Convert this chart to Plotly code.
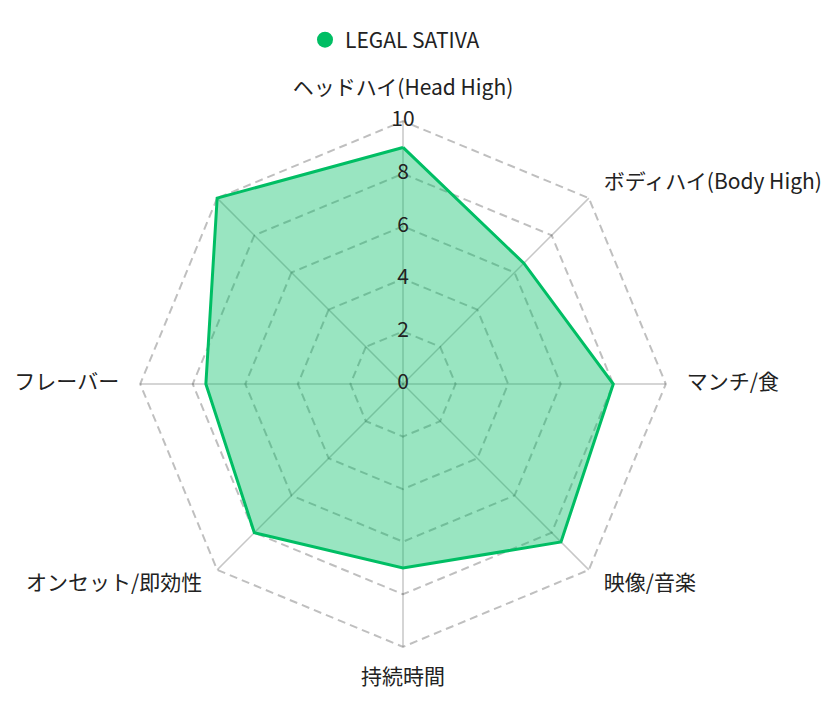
import plotly.graph_objects as go

# chart data
categories = [
    "ヘッドハイ(Head High)",
    "ボディハイ(Body High)",
    "マンチ/食",
    "映像/音楽",
    "持続時間",
    "オンセット/即効性",
    "フレーバー",
    " ",
]
values = [9, 6.5, 8, 8.5, 7, 8, 7.5, 10]
series_name = "LEGAL SATIVA"
tick_values = [0, 2, 4, 6, 8, 10]

line_color = "rgb(0,190,100)"
fill_color = "rgba(0,190,100,0.4)"
grid_color = "rgba(0,0,0,0.22)"
font_family = "Noto Sans CJK JP"
text_color = "#222"

# where each category label sits around its spoke
label_positions = [
    "top center", "middle right", "middle right", "middle right",
    "bottom center", "middle left", "middle left", "middle left",
]
label_r = 10.8
r_max = 11.3  # leave room outside the 10 ring for the labels

fig = go.Figure()

# spokes from centre to the outer ring
spoke_r, spoke_theta = [], []
for c in categories:
    spoke_r += [0, tick_values[-1], None]
    spoke_theta += [c, c, None]
fig.add_trace(go.Scatterpolar(
    r=spoke_r,
    theta=spoke_theta,
    mode="lines",
    line=dict(color=grid_color, width=1.5),
    showlegend=False,
    hoverinfo="skip",
    connectgaps=False,
))

fig.add_trace(go.Scatterpolar(
    r=values + values[:1],
    theta=categories + categories[:1],
    name=series_name,
    mode="lines",
    line=dict(color=line_color, width=3),
    fill="toself",
    fillcolor=fill_color,
    hoverinfo="r+theta",
    showlegend=False,
))

# category labels
fig.add_trace(go.Scatterpolar(
    r=[label_r] * len(categories),
    theta=categories,
    mode="text",
    text=categories,
    textposition=label_positions,
    textfont=dict(size=21, color=text_color, family=font_family),
    showlegend=False,
    hoverinfo="skip",
    cliponaxis=False,
))

# radial tick labels sit centred on the first spoke
fig.add_trace(go.Scatterpolar(
    r=[max(t, 0.001) for t in tick_values],
    theta=[categories[0]] * len(tick_values),
    mode="text",
    text=[str(t) for t in tick_values],
    textposition="middle center",
    textfont=dict(size=21, color=text_color, family=font_family),
    showlegend=False,
    hoverinfo="skip",
    cliponaxis=False,
))

# legend entry shown as a filled circle
fig.add_trace(go.Scatterpolar(
    r=[None],
    theta=[categories[0]],
    name=series_name,
    mode="markers",
    marker=dict(color=line_color, size=20, symbol="circle"),
    showlegend=True,
    hoverinfo="skip",
))

fig.update_layout(
    width=838,
    height=707,
    margin=dict(l=0, r=0, t=0, b=0),
    paper_bgcolor="white",
    plot_bgcolor="white",
    font=dict(family=font_family, size=21, color=text_color),
    showlegend=True,
    legend=dict(
        orientation="h",
        x=387 / 838,
        xanchor="center",
        y=1 - 32 / 707,
        yanchor="middle",
        font=dict(size=21, color=text_color),
        itemsizing="trace",
        itemwidth=30,
    ),
    polar=dict(
        domain=dict(x=[98 / 838, 692 / 838], y=[34 / 707, 628 / 707]),
        bgcolor="white",
        gridshape="linear",
        radialaxis=dict(
            range=[0, r_max],
            tickvals=tick_values,
            showticklabels=False,
            ticks="",
            angle=90,
            showline=False,
            gridcolor="rgba(0,0,0,0.25)",
            griddash="8px,5px",
            gridwidth=1.5,
        ),
        angularaxis=dict(
            direction="clockwise",
            rotation=90,
            showline=False,
            showticklabels=False,
            showgrid=False,
            ticks="",
        ),
    ),
)

fig.write_html("out.html")
